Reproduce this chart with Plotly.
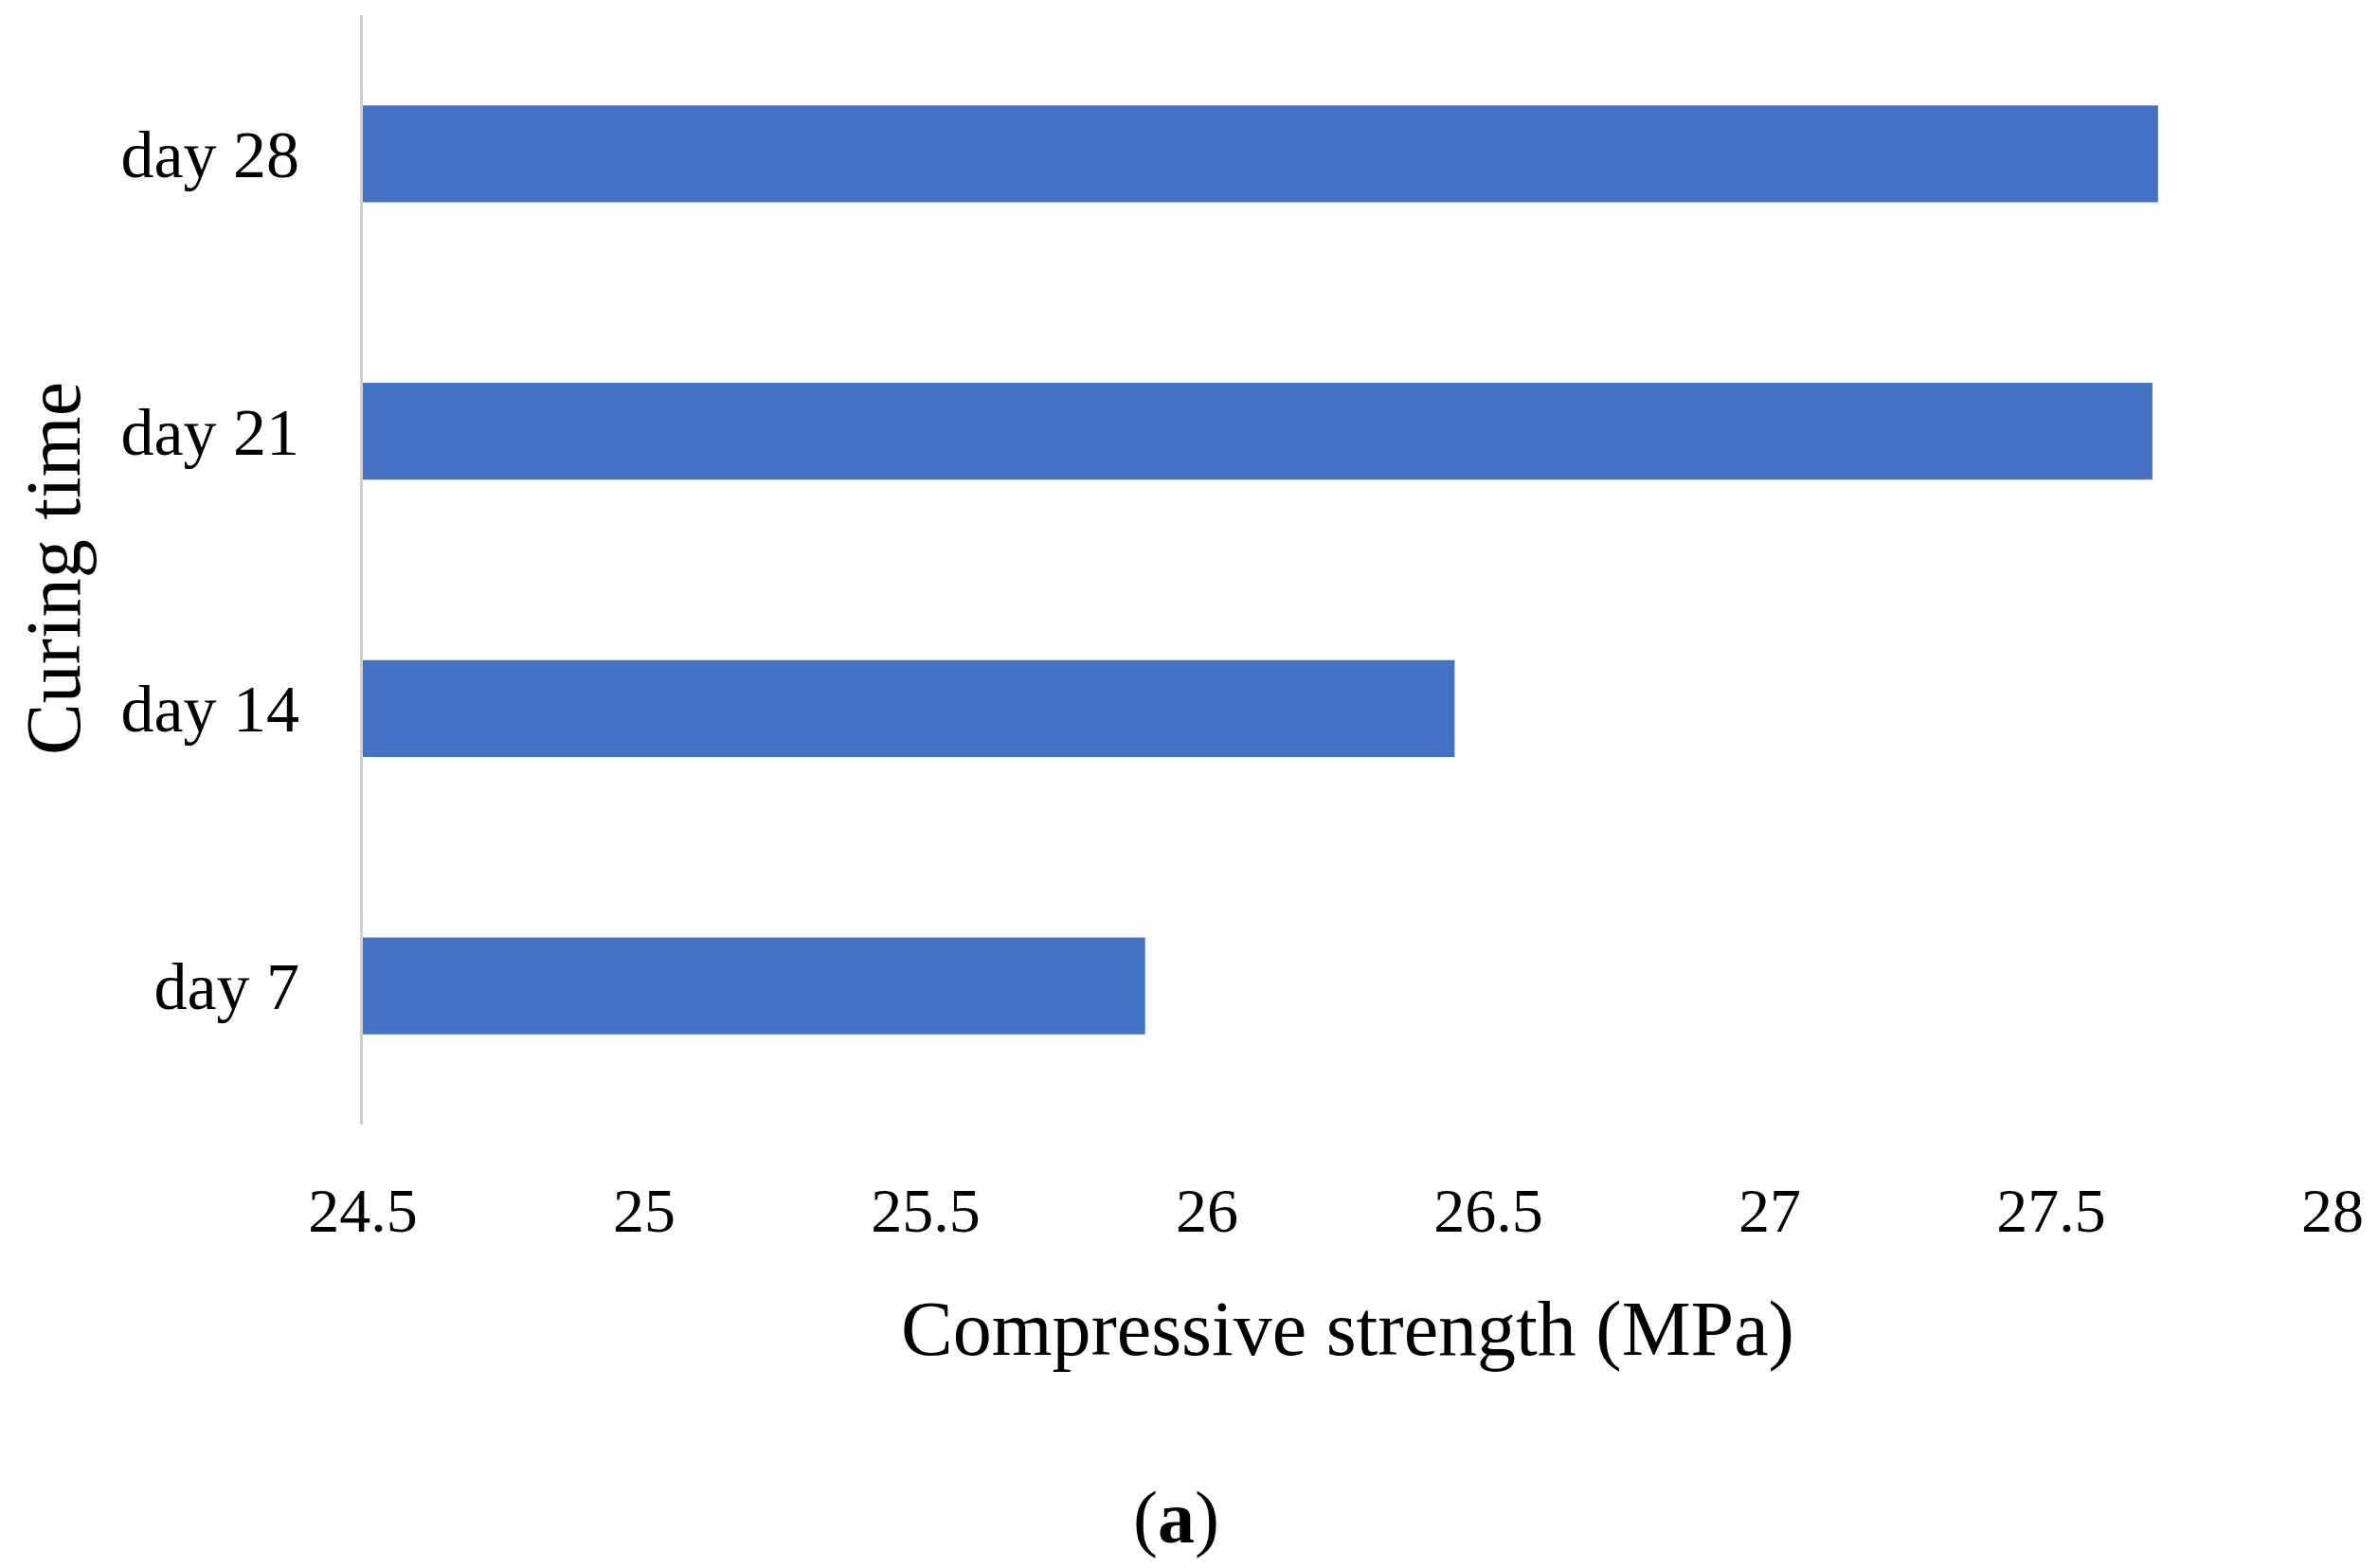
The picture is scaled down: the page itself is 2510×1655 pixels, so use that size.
import plotly.graph_objects as go

categories = ["day 7", "day 14", "day 21", "day 28"]
strength = [25.89, 26.44, 27.68, 27.69]
x_ticks = [24.5, 25, 25.5, 26, 26.5, 27, 27.5, 28]

W, H = 2510, 1655
OFF = 8  # browser default body margin
PL, PT, PW, PH = 383, 16, 2079, 1171  # target plot-area position in the screenshot
L, T = PL - OFF, PT - OFF
R = W - L - PW
B = H - T - PH

font_family = "Liberation Serif, Times New Roman, serif"

fig = go.Figure()
fig.add_trace(go.Bar(
    y=categories, x=strength, orientation="h",
    marker=dict(color="#4472C4", line=dict(width=0)),
    width=0.35,
))

def px_to_paper_x(px):
    return (px - PL) / PW

def px_to_paper_y(py):
    return (PT + PH - py) / PH

fig.update_layout(
    width=W, height=H,
    margin=dict(l=L, r=R, t=T, b=B, pad=0),
    paper_bgcolor="white", plot_bgcolor="white",
    showlegend=False,
    font=dict(family=font_family, color="#000000"),
    xaxis=dict(
        range=[24.5, 28], tickvals=x_ticks, ticktext=[f"{v:g}" for v in x_ticks],
        showgrid=False, zeroline=False, showline=False,
        tickfont=dict(size=66, family=font_family, color="#000"),
        ticks="", ticklabelstandoff=46,
    ),
    yaxis=dict(
        showgrid=False, zeroline=False, showline=True,
        linecolor="#D0D0D0", linewidth=3,
        tickfont=dict(size=70, family=font_family, color="#000"),
        ticks="", ticklabelstandoff=50,
        categoryorder="array", categoryarray=categories,
    ),
    annotations=[
        dict(text="Compressive strength (MPa)", xref="paper", yref="paper",
             x=px_to_paper_x(1422), y=px_to_paper_y(1402),
             xanchor="center", yanchor="middle", showarrow=False,
             font=dict(size=82, family=font_family, color="#000")),
        dict(text="Curing time", xref="paper", yref="paper",
             x=px_to_paper_x(56), y=px_to_paper_y(600), textangle=-90,
             xanchor="center", yanchor="middle", showarrow=False,
             font=dict(size=82, family=font_family, color="#000")),
        dict(text="(<b>a</b>)", xref="paper", yref="paper",
             x=px_to_paper_x(1241), y=px_to_paper_y(1601),
             xanchor="center", yanchor="middle", showarrow=False,
             font=dict(size=78, family=font_family, color="#000")),
    ],
)

fig.write_html("out.html")
